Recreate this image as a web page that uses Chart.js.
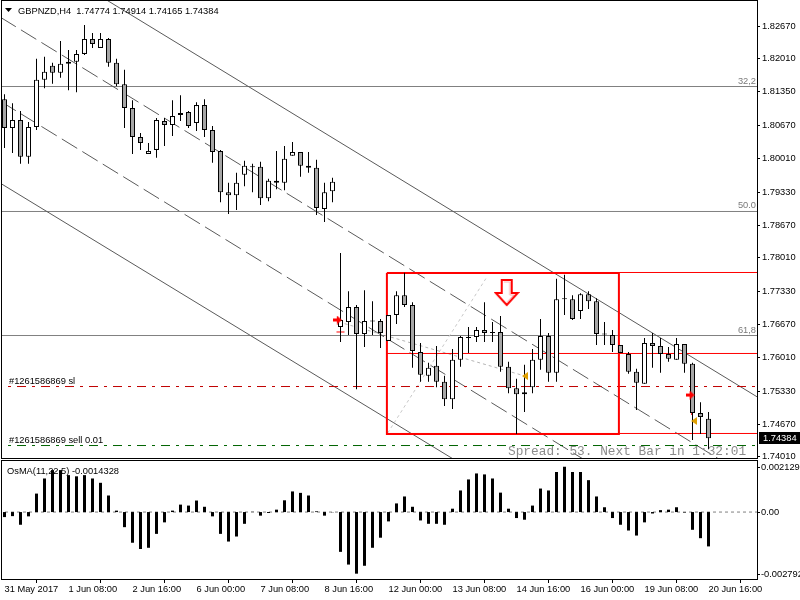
<!DOCTYPE html>
<html>
<head>
<meta charset="utf-8">
<title>GBPNZD,H4</title>
<script src="https://cdn.jsdelivr.net/npm/chart.js@4.4.1/dist/chart.umd.min.js"></script>
<style>
  html, body { margin: 0; padding: 0; background: #fff; }
  #wrap { position: relative; width: 800px; height: 600px; overflow: hidden; }
  canvas { position: absolute; left: 0; }
  #price { top: 0; }
  #osma { top: 460px; }
</style>
</head>
<body>
<div id="wrap">
  <canvas id="price" width="800" height="466"></canvas>
  <canvas id="osma" width="800" height="140"></canvas>
</div>
<script>
// ---- data ----
const xTickBars = [0, 8, 16, 24, 32, 40, 48, 56, 64, 72, 80, 88];
const xTickLabels = ['31 May 2017', '1 Jun 08:00', '2 Jun 16:00', '6 Jun 00:00', '7 Jun 08:00', '8 Jun 16:00',
  '12 Jun 00:00', '13 Jun 08:00', '14 Jun 16:00', '16 Jun 00:00', '19 Jun 08:00', '20 Jun 16:00'];
const priceTicks = [1.82670, 1.82010, 1.81350, 1.80670, 1.80010, 1.79330, 1.78670, 1.78010,
  1.77330, 1.76670, 1.76010, 1.75330, 1.74670, 1.74010];
const osmaTicks = [0.002129, 0.00, -0.002792];

const open = [1.8120, 1.8062, 1.8078, 1.8004, 1.8064, 1.8159, 1.8187, 1.8173, 1.8191, 1.8195,
  1.8211, 1.8241, 1.8223, 1.8241, 1.8193, 1.8150, 1.8102, 1.8044, 1.8010, 1.8018,
  1.8076, 1.8068, 1.8088, 1.8094, 1.8072, 1.8108, 1.8058, 1.8016, 1.7933, 1.7927,
  1.7968, 1.7983, 1.7984, 1.7921, 1.7952, 1.7952, 1.8006, 1.8014, 1.7986, 1.7982,
  1.7899, 1.7935, 1.7662, 1.7672, 1.7702, 1.7648, 1.7674, 1.7674, 1.7634, 1.7686,
  1.7726, 1.7706, 1.7612, 1.7564, 1.7584, 1.7552, 1.7517, 1.7596, 1.7640, 1.7642,
  1.7656, 1.7650, 1.7652, 1.7582, 1.7539, 1.7527, 1.7541, 1.7596, 1.7644, 1.7570,
  1.7718, 1.7718, 1.7694, 1.7728, 1.7714, 1.7648, 1.7646, 1.7626, 1.7608, 1.7572,
  1.7548, 1.7630, 1.7624, 1.7608, 1.7596, 1.7628, 1.7588, 1.7489, 1.74774];
const high = [1.8130, 1.8112, 1.8096, 1.8074, 1.8201, 1.8205, 1.8193, 1.8237, 1.8219, 1.8219,
  1.8269, 1.8253, 1.8253, 1.8243, 1.8201, 1.8179, 1.8118, 1.8052, 1.8032, 1.8082,
  1.8082, 1.8118, 1.8128, 1.8096, 1.8114, 1.8120, 1.8066, 1.8018, 1.7952, 1.7972,
  1.7996, 1.7990, 1.7994, 1.7960, 1.8016, 1.8026, 1.8034, 1.8014, 1.8014, 1.7998,
  1.7952, 1.7962, 1.7811, 1.7734, 1.7706, 1.7736, 1.7714, 1.7678, 1.7686, 1.7734,
  1.7771, 1.7712, 1.7630, 1.7590, 1.7624, 1.7564, 1.7618, 1.7644, 1.7662, 1.7662,
  1.7712, 1.7672, 1.7684, 1.7592, 1.7558, 1.7586, 1.7618, 1.7678, 1.7650, 1.7759,
  1.7767, 1.7726, 1.7730, 1.7734, 1.7720, 1.7672, 1.7656, 1.7626, 1.7612, 1.7578,
  1.7640, 1.7650, 1.7640, 1.7622, 1.7640, 1.7628, 1.7590, 1.7511, 1.74914];
const low = [1.8022, 1.8012, 1.7990, 1.7990, 1.8058, 1.8142, 1.8151, 1.8163, 1.8138, 1.8134,
  1.8209, 1.8223, 1.8223, 1.8185, 1.8146, 1.8062, 1.8010, 1.8018, 1.8010, 1.8002,
  1.8026, 1.8046, 1.8076, 1.8062, 1.8056, 1.8044, 1.7992, 1.7913, 1.7889, 1.7897,
  1.7945, 1.7933, 1.7907, 1.7915, 1.7939, 1.7937, 1.8006, 1.7964, 1.7972, 1.7887,
  1.7873, 1.7913, 1.7632, 1.7646, 1.7537, 1.7622, 1.7646, 1.7620, 1.7634, 1.7668,
  1.7702, 1.7580, 1.7552, 1.7552, 1.7541, 1.7503, 1.7497, 1.7582, 1.7610, 1.7632,
  1.7632, 1.7632, 1.7572, 1.7529, 1.7447, 1.7491, 1.7529, 1.7576, 1.7552, 1.7552,
  1.7686, 1.7676, 1.7678, 1.7698, 1.7626, 1.7626, 1.7612, 1.7610, 1.7568, 1.7495,
  1.7548, 1.7580, 1.7570, 1.7592, 1.7596, 1.7570, 1.7435, 1.7447, 1.74165];
const close = [1.8062, 1.8078, 1.8004, 1.8064, 1.8159, 1.8175, 1.8173, 1.8191, 1.8195, 1.8211,
  1.8241, 1.8231, 1.8241, 1.8193, 1.8150, 1.8102, 1.8044, 1.8032, 1.8016, 1.8078,
  1.8068, 1.8086, 1.8092, 1.8066, 1.8108, 1.8058, 1.8014, 1.7933, 1.7927, 1.7952,
  1.7986, 1.7984, 1.7921, 1.7956, 1.7956, 1.8000, 1.8014, 1.7986, 1.7982, 1.7901,
  1.7933, 1.7954, 1.7676, 1.7702, 1.7648, 1.7674, 1.7673, 1.7650, 1.7686, 1.7726,
  1.7706, 1.7614, 1.7566, 1.7580, 1.7552, 1.7517, 1.7596, 1.7642, 1.7640, 1.7656,
  1.7650, 1.7650, 1.7582, 1.7539, 1.7527, 1.7531, 1.7596, 1.7644, 1.7570, 1.7718,
  1.7718, 1.7678, 1.7728, 1.7714, 1.7648, 1.7647, 1.7626, 1.7610, 1.7572, 1.7550,
  1.7630, 1.7624, 1.7608, 1.7598, 1.7628, 1.7588, 1.7489, 1.7481, 1.74384];
const osma = [-0.00021, -0.00017, -0.00053, -0.00018, 0.00077, 0.00140, 0.00175, 0.00175, 0.00154, 0.00149,
  0.00154, 0.00140, 0.00122, 0.00069, 0.00006, -0.00063, -0.00128, -0.00154, -0.00149, -0.00091,
  -0.00043, 0.00006, 0.00031, 0.00027, 0.00048, 0.00022, -0.00018, -0.00091, -0.00123, -0.00102,
  -0.00049, 0.00001, -0.00015, -0.00004, 0.00010, 0.00049, 0.00086, 0.00080, 0.00069, 0.00003,
  -0.00015, -0.00001, -0.00166, -0.00219, -0.00257, -0.00224, -0.00149, -0.00107, -0.00039, 0.00036,
  0.00065, 0.00022, -0.00035, -0.00049, -0.00049, -0.00053, 0.00014, 0.00090, 0.00136, 0.00161,
  0.00157, 0.00140, 0.00081, 0.00014, -0.00025, -0.00032, 0.00027, 0.00098, 0.00090, 0.00167,
  0.00189, 0.00167, 0.00167, 0.00133, 0.00065, 0.00020, -0.00025, -0.00053, -0.00077, -0.00098,
  -0.00043, -0.00006, 0.00008, 0.00010, 0.00020, -0.00002, -0.00074, -0.00109, -0.0014328];

// chart objects: [bar index, price]
const channelA = [[-0.5, 1.84494], [94.1, 1.75214]];
const channelB = [[-0.5, 1.82845], [94.1, 1.73491]];
const channelC = [[-0.5, 1.81157], [94.1, 1.71817]];
const channelD = [[-0.5, 1.79509], [94.1, 1.70245]];
const fibLevels = [1.81454, 1.78942, 1.76449];
const fibNames = ['32,2', '50.0', '61,8'];
const boxBars = [47.8, 76.8];
const boxPrices = [1.77706, 1.74470];
const boxRays = [1.77716, 1.76088, 1.74480];
const slPrice = 1.75424;
const entryPrice = 1.74238;
const tradeLine = [[41.8, 1.76721], [65.06, 1.75635]];
const fanLine = [[47.9, 1.74490], [60.3, 1.77626]];
const sellMarks = [[41.6, 1.76761], [85.7, 1.75253]];
const closeMarks = [[65.06, 1.75635], [86.2, 1.74731]];
const stopDash = [[41.5, 1.76520], [42.5, 1.76520]];
const closeDots = [[85.9, 1.75213], [85.9, 1.74851]];
const bigArrow = [[62.78, 1.77314]];

const X_MIN = -0.4375, X_MAX = 94.0625;
const Y_MIN = 1.739872, Y_MAX = 1.831729;
const FONT = '"Liberation Sans", Arial, sans-serif';

// ---- helpers ----
function pts(list) {
  return list.map(p => ({ x: p[0], y: p[1] }));
}
function seg(list, color, width, dash, order) {
  return {
    type: 'line', data: pts(list), borderColor: color, borderWidth: width,
    borderDash: dash || [], pointRadius: 0, fill: false, tension: 0, order: order
  };
}
function marks(list, style, order) {
  return {
    type: 'scatter', data: pts(list), pointStyle: style, pointRadius: 4, order: order
  };
}

function makeBigArrow() {
  const c = document.createElement('canvas');
  c.width = 26; c.height = 29;
  const g = c.getContext('2d');
  g.beginPath();
  g.moveTo(8, 2); g.lineTo(18, 2); g.lineTo(18, 15); g.lineTo(24, 15);
  g.lineTo(13, 27); g.lineTo(2, 15); g.lineTo(8, 15); g.closePath();
  g.fillStyle = '#fff'; g.fill();
  g.strokeStyle = '#ff0000'; g.lineWidth = 2; g.stroke();
  g.beginPath();
  g.moveTo(10, 4); g.lineTo(16, 4); g.lineTo(16, 17); g.lineTo(20, 17); g.lineTo(13, 24.5);
  g.strokeStyle = '#ffb0b0'; g.lineWidth = 1; g.stroke();
  return c;
}
function makeSellArrow() {
  const c = document.createElement('canvas');
  c.width = 9; c.height = 9;
  const g = c.getContext('2d');
  g.fillStyle = '#ff0000';
  g.beginPath();
  g.moveTo(0, 3); g.lineTo(4, 3); g.lineTo(4, 0); g.lineTo(9, 4.5);
  g.lineTo(4, 9); g.lineTo(4, 6); g.lineTo(0, 6); g.closePath();
  g.fill();
  return c;
}
function makeCloseArrow() {
  const c = document.createElement('canvas');
  c.width = 6; c.height = 8;
  const g = c.getContext('2d');
  g.fillStyle = '#e0a000';
  g.beginPath();
  g.moveTo(6, 0); g.lineTo(0, 4); g.lineTo(6, 8); g.closePath();
  g.fill();
  return c;
}

// ---- price panel ----
const wickData = open.map((o, i) => ({ x: i, y: [low[i], high[i]] }));
const bodyData = open.map((o, i) => ({ x: i, y: [o, close[i]] }));
const bodyFill = open.map((o, i) => close[i] >= o ? '#ffffff' : '#a6a6a6');

const priceOverlay = {
  id: 'priceOverlay',
  afterDraw(chart) {
    const { ctx, chartArea: a } = chart;
    const y = chart.scales.y;
    ctx.save();
    ctx.strokeStyle = '#000';
    ctx.lineWidth = 1;
    ctx.strokeRect(a.left + 0.5, a.top - 0.5, a.right - a.left, a.bottom - a.top + 1);

    // title
    ctx.fillStyle = '#000';
    ctx.beginPath();
    ctx.moveTo(5, 8); ctx.lineTo(12, 8); ctx.lineTo(8.5, 12); ctx.closePath();
    ctx.fill();
    ctx.font = '9.3px ' + FONT;
    ctx.textBaseline = 'alphabetic';
    ctx.textAlign = 'left';
    ctx.fillText('GBPNZD,H4  1.74774 1.74914 1.74165 1.74384', 18, 14);

    // fibo level names
    ctx.fillStyle = '#7a7a7a';
    ctx.textAlign = 'right';
    fibLevels.forEach((v, k) => {
      ctx.fillText(fibNames[k], a.right - 1, y.getPixelForValue(v) - 3);
    });

    // order labels
    ctx.fillStyle = '#000';
    ctx.textAlign = 'left';
    ctx.fillText('#1261586869 sl', 9, y.getPixelForValue(slPrice) - 3);
    ctx.fillText('#1261586869 sell 0.01', 9, y.getPixelForValue(entryPrice) - 3);

    // spread / timer
    ctx.font = '12.8px "Liberation Mono", "DejaVu Sans Mono", monospace';
    ctx.fillStyle = '#8c8c8c';
    ctx.fillText('Spread: 53. Next Bar in 1:32:01', 508, a.bottom - 3);

    // current price box
    const py = y.getPixelForValue(close[close.length - 1]);
    ctx.fillStyle = '#000';
    ctx.fillRect(a.right + 2, Math.round(py) - 6, 800 - a.right - 2, 12);
    ctx.fillStyle = '#fff';
    ctx.font = '9.3px ' + FONT;
    ctx.textBaseline = 'middle';
    ctx.fillText(close[close.length - 1].toFixed(5), a.right + 6, Math.round(py));
    ctx.restore();
  }
};

new Chart(document.getElementById('price'), {
  type: 'bar',
  data: {
    datasets: [
      marks(bigArrow, makeBigArrow(), -2),
      marks(sellMarks, makeSellArrow(), -1),
      marks(closeMarks, makeCloseArrow(), -1),
      {
        type: 'bar', data: bodyData, backgroundColor: bodyFill, borderColor: '#000',
        borderWidth: 1, borderSkipped: false, barThickness: 5, minBarLength: 1,
        inflateAmount: 0, grouped: false, order: 0
      },
      {
        type: 'bar', data: wickData, backgroundColor: '#000', borderWidth: 0,
        barThickness: 1, inflateAmount: 0, grouped: false, order: 1
      },
      seg(channelA, '#5a5a5a', 1, [], 5),
      seg(channelB, '#5a5a5a', 1, [18, 6], 5),
      seg(channelC, '#5a5a5a', 1, [18, 6], 5),
      seg(channelD, '#5a5a5a', 1, [], 5),
      ...fibLevels.map(v => seg([[X_MIN - 1, v], [X_MAX + 1, v]], '#808080', 1, [], 6)),
      seg([[boxBars[0], boxPrices[0]], [boxBars[1], boxPrices[0]], [boxBars[1], boxPrices[1]],
           [boxBars[0], boxPrices[1]], [boxBars[0], boxPrices[0]]], '#ff0000', 2, [], 3),
      ...boxRays.map(v => seg([[boxBars[0], v], [X_MAX + 1, v]], '#ff0000', 1, [], 3)),
      seg([[X_MIN - 1, slPrice], [X_MAX + 1, slPrice]], '#c00000', 1, [9, 6, 3, 6], 4),
      seg([[X_MIN - 1, entryPrice], [X_MAX + 1, entryPrice]], '#006400', 1, [9, 6, 3, 6], 4),
      seg(tradeLine, '#b4b4b4', 1, [3, 3], 4),
      seg(fanLine, '#c8c8c8', 1, [3, 3], 4),
      seg(stopDash, '#ff0000', 1, [], 2),
      seg(closeDots, '#ff0000', 1, [2, 2], 2)
    ]
  },
  options: {
    responsive: false,
    animation: false,
    events: [],
    layout: { autoPadding: false, padding: { left: 1, top: 1, right: 0, bottom: 8 } },
    plugins: { legend: { display: false }, tooltip: { enabled: false } },
    scales: {
      x: { type: 'linear', min: X_MIN, max: X_MAX, offset: false, display: false },
      y: {
        type: 'linear', position: 'right', min: Y_MIN, max: Y_MAX,
        afterBuildTicks: s => { s.ticks = priceTicks.map(v => ({ value: v })); },
        afterFit: s => { s.width = 43; s.paddingTop = 0; s.paddingBottom = 0; },
        border: { display: false },
        grid: { display: true, drawOnChartArea: false, drawTicks: true, tickLength: 3, color: '#000' },
        ticks: {
          autoSkip: false, padding: 2, color: '#000', font: { family: FONT, size: 9.3 },
          callback: v => v.toFixed(5)
        }
      }
    }
  },
  plugins: [priceOverlay]
});

// ---- OsMA panel ----
const osmaOverlay = {
  id: 'osmaOverlay',
  afterDraw(chart) {
    const { ctx, chartArea: a } = chart;
    const y = chart.scales.y;
    ctx.save();
    ctx.strokeStyle = '#000';
    ctx.lineWidth = 1;
    ctx.strokeRect(a.left + 0.5, a.top - 0.5, a.right - a.left, a.bottom - a.top + 1);
    ctx.fillStyle = '#000';
    ctx.font = '9.3px ' + FONT;
    ctx.textAlign = 'left';
    ctx.textBaseline = 'alphabetic';
    ctx.fillText('OsMA(11,22,5) -0.0014328', 7, a.top + 13);

    // scale labels sit inside the panel edges
    ctx.textBaseline = 'middle';
    const labelY = [a.top + 6, y.getPixelForValue(osmaTicks[1]), a.bottom - 5];
    osmaTicks.forEach((v, k) => {
      const t = v === 0 ? '0.00' : v.toFixed(6);
      ctx.fillText(t, a.right + 4, labelY[k]);
      ctx.fillRect(a.right, Math.round(labelY[k]), 3, 1);
    });
    ctx.restore();
  }
};

new Chart(document.getElementById('osma'), {
  type: 'bar',
  data: {
    datasets: [
      {
        type: 'bar', data: osma.map((v, i) => ({ x: i, y: v })), backgroundColor: '#000',
        borderWidth: 0, barThickness: 3, inflateAmount: 0, grouped: false, order: 0
      },
      seg([[X_MIN - 1, 0], [X_MAX + 1, 0]], '#808080', 1, [3, 3], 1)
    ]
  },
  options: {
    responsive: false,
    animation: false,
    events: [],
    layout: { autoPadding: false, padding: { left: 1, top: 1, right: 0, bottom: 0 } },
    plugins: { legend: { display: false }, tooltip: { enabled: false } },
    scales: {
      x: {
        type: 'linear', min: X_MIN, max: X_MAX, offset: false,
        afterBuildTicks: s => { s.ticks = xTickBars.map(v => ({ value: v })); },
        afterFit: s => { s.height = 21; s.paddingLeft = 0; s.paddingRight = 0; },
        border: { display: false },
        grid: { display: true, drawOnChartArea: false, drawTicks: true, tickLength: 4, color: '#000' },
        ticks: {
          autoSkip: false, maxRotation: 0, align: 'start', padding: 1, color: '#000',
          font: { family: FONT, size: 9.3 },
          callback: (v, idx) => xTickLabels[idx]
        }
      },
      y: {
        type: 'linear', position: 'right', min: osmaTicks[2], max: osmaTicks[0],
        afterFit: s => { s.width = 43; s.paddingTop = 0; s.paddingBottom = 0; },
        border: { display: false },
        grid: { display: false },
        ticks: { display: false }
      }
    }
  },
  plugins: [osmaOverlay]
});
</script>
</body>
</html>
